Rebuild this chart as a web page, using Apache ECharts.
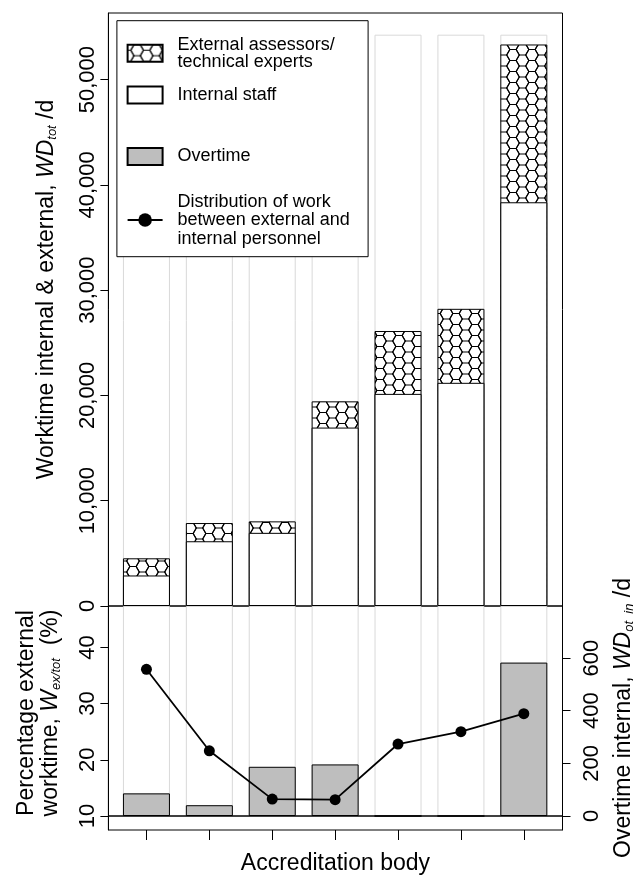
<!DOCTYPE html>
<html><head><meta charset="utf-8">
<script src="https://cdn.jsdelivr.net/npm/echarts@6/dist/echarts.min.js"></script>
<style>html,body{margin:0;padding:0;background:#fff}#c{width:633px;height:881px}</style>
</head><body><div id="c"></div>
<script>
// ---------------- data ----------------
const categories = ['Body 1','Body 2','Body 3','Body 4','Body 5','Body 6','Body 7'];
const internalStaff = [2900, 6150, 6950, 16950, 20150, 21200, 38350];   // WD internal
const totalWorktime = [4530, 7880, 8040, 19440, 26120, 28230, 53340];   // internal + external
const overtime = [86, 41, 187, 196, 0, 0, 583];                          // WD_ot_in
const percentExternal = [36.1, 21.6, 13.0, 12.9, 22.8, 25.0, 28.2];      // W_ex/tot (%)
const ghostTop = 54270;
const topTicks = [0, 10000, 20000, 30000, 40000, 50000];
const pctTicks = [10, 20, 30, 40];
const otTicks = [0, 200, 400, 600];
const xTicks = categories.map((c, i) => i);

// ---------------- styling ----------------
const FONT = 'Liberation Sans, Arial, Helvetica, sans-serif';
const topMax = 56330, pctMin = 7.5, pctMax = 47.37, otMin = -53.2, otMax = 798;
const xMin = -0.605, xMax = 6.615;

function hexPattern() {
  const W = 19, H = 11, s = W / 3;
  const c = document.createElement('canvas');
  c.width = W; c.height = H;
  const g = c.getContext('2d');
  g.fillStyle = '#fff'; g.fillRect(0, 0, W, H);
  g.strokeStyle = '#000'; g.lineWidth = 1.1;
  const centers = [[0, 0], [W, 0], [0, H], [W, H], [1.5 * s, H / 2]];
  centers.forEach(([cx, cy]) => {
    g.beginPath();
    g.moveTo(cx + s, cy);
    g.lineTo(cx + s / 2, cy + H / 2);
    g.lineTo(cx - s / 2, cy + H / 2);
    g.lineTo(cx - s, cy);
    g.lineTo(cx - s / 2, cy - H / 2);
    g.lineTo(cx + s / 2, cy - H / 2);
    g.closePath();
    g.stroke();
  });
  return c;
}
const hex = { image: hexPattern(), repeat: 'repeat' };

const pairs = arr => arr.map((v, i) => [i, v]);
const BW = 47;

const rich = {
  t: { fontSize: 23, fontFamily: FONT, color: '#000', lineHeight: 24 },
  i: { fontSize: 23, fontFamily: FONT, fontStyle: 'italic', color: '#000', lineHeight: 24 },
  s: { fontSize: 13, fontFamily: FONT, fontStyle: 'italic', color: '#000', lineHeight: 17, verticalAlign: 'bottom' }
};

const legendNames = {
  'External': 'External assessors/\ntechnical experts',
  'Internal staff': 'Internal staff',
  'Overtime': 'Overtime',
  'Distribution': 'Distribution of work\nbetween external and\ninternal personnel'
};
function mkLegend(name, top, lh, icon) {
  const l = {
    data: [name], orient: 'vertical', left: 126.6, top: top, padding: 0,
    itemWidth: 35, itemHeight: 17, z: 10, selectedMode: false,
    formatter: n => legendNames[n],
    textStyle: { fontSize: 18, fontFamily: FONT, color: '#000', lineHeight: lh, padding: [0, 0, 0, 10] }
  };
  if (icon) l.icon = icon;
  return l;
}

const tickStyle = { show: true, length: 8, lineStyle: { color: '#000', width: 1 } };
const labelBase = { fontSize: 22, fontFamily: FONT, color: '#000', rotate: 90 };
const yLine = { show: true, onZero: false, lineStyle: { color: '#000', width: 1 } };

const option = {
  animation: false,
  backgroundColor: '#fff',
  textStyle: { fontFamily: FONT },
  grid: [
    { left: 108.4, top: 13, width: 454.1, height: 593, show: true, borderColor: '#000', borderWidth: 1,
      backgroundColor: 'transparent', containLabel: false, outerBoundsMode: 'none' },
    { left: 108.4, top: 606, width: 454.1, height: 224, show: true, borderColor: '#000', borderWidth: 1,
      backgroundColor: 'transparent', containLabel: false, outerBoundsMode: 'none' }
  ],
  xAxis: [
    { type: 'value', gridIndex: 0, min: xMin, max: xMax, show: false },
    { type: 'value', gridIndex: 1, min: xMin, max: xMax,
      axisLine: { show: false, onZero: false }, splitLine: { show: false },
      axisTick: { show: true, length: 10, customValues: xTicks, lineStyle: { color: '#000', width: 1 } },
      axisLabel: { show: false, customValues: xTicks },
      name: 'Accreditation body', nameLocation: 'middle', nameGap: 22,
      nameTextStyle: { fontSize: 23, fontFamily: FONT, color: '#000' } }
  ],
  yAxis: [
    { type: 'value', gridIndex: 0, min: 0, max: topMax, position: 'left',
      axisLine: yLine, splitLine: { show: false },
      axisTick: Object.assign({ customValues: topTicks }, tickStyle),
      axisLabel: Object.assign({ customValues: topTicks, margin: 9,
        formatter: v => v.toLocaleString('en-US') }, labelBase),
      name: '{t|Worktime internal & external, }{i|WD}{s|tot}{t| /d}',
      nameLocation: 'middle', nameRotate: 90, nameGap: 50,
      nameTextStyle: { rich: rich, padding: [0, 0, 0, 40] } },
    { type: 'value', gridIndex: 1, min: pctMin, max: pctMax, position: 'left',
      axisLine: yLine, splitLine: { show: false },
      axisTick: Object.assign({ customValues: pctTicks }, tickStyle),
      axisLabel: Object.assign({ customValues: pctTicks, margin: 9 }, labelBase),
      name: '{t|Percentage external}\n{t|worktime, }{i|W}{s|ex/tot}{t|  (%)}',
      nameLocation: 'middle', nameRotate: 90, nameGap: 46,
      nameTextStyle: { rich: rich, padding: [0, 0, 0, 10] } },
    { type: 'value', gridIndex: 1, min: otMin, max: otMax, position: 'right',
      axisLine: yLine, splitLine: { show: false },
      axisTick: Object.assign({ customValues: otTicks }, tickStyle),
      axisLabel: Object.assign({ customValues: otTicks, margin: 18 }, labelBase),
      name: '{t|Overtime internal, }{i|WD}{s|ot_in}{t| /d}',
      nameLocation: 'middle', nameRotate: 90, nameGap: 49,
      nameTextStyle: { rich: rich } }
  ],
  legend: [
    mkLegend('External', 35.7, 17, 'rect'),
    mkLegend('Internal staff', 85.5, 17, 'rect'),
    mkLegend('Overtime', 147, 17, 'rect'),
    mkLegend('Distribution', 192.3, 18.5)
  ],
  graphic: [
    { type: 'rect', z: 3, shape: { x: 116.9, y: 20.7, width: 251.2, height: 236 },
      style: { fill: '#fff', stroke: '#000', lineWidth: 1 } }
  ],
  series: [
    { type: 'bar', name: 'ghostTop', xAxisIndex: 0, yAxisIndex: 0, barWidth: BW, barGap: '-100%', z: 1, silent: true,
      data: categories.map((c, i) => [i, ghostTop]),
      itemStyle: { color: 'rgba(0,0,0,0)', borderColor: '#d9d9d9', borderWidth: 1 } },
    { type: 'bar', name: 'External', xAxisIndex: 0, yAxisIndex: 0, barWidth: BW, barGap: '-100%', z: 2,
      data: pairs(totalWorktime),
      itemStyle: { color: hex, borderColor: '#000', borderWidth: 1 } },
    { type: 'bar', name: 'Internal staff', xAxisIndex: 0, yAxisIndex: 0, barWidth: BW, barGap: '-100%', z: 2,
      data: pairs(internalStaff),
      itemStyle: { color: '#fff', borderColor: '#000', borderWidth: 1 } },
    { type: 'bar', name: 'ghostBottom', xAxisIndex: 1, yAxisIndex: 2, barWidth: BW, barGap: '-100%', z: 1, silent: true,
      data: categories.map((c, i) => [i, otMax]),
      itemStyle: { color: 'rgba(0,0,0,0)', borderColor: '#d9d9d9', borderWidth: 1 } },
    { type: 'bar', name: 'Overtime', xAxisIndex: 1, yAxisIndex: 2, barWidth: BW, barGap: '-100%', z: 2,
      data: pairs(overtime),
      itemStyle: { color: '#bebebe', borderColor: '#000', borderWidth: 1 } },
    { type: 'line', name: 'Distribution', xAxisIndex: 1, yAxisIndex: 1, z: 4,
      data: pairs(percentExternal),
      symbol: 'circle', symbolSize: 11,
      lineStyle: { color: '#000', width: 1.8 },
      itemStyle: { color: '#000' },
      markLine: { silent: true, symbol: 'none', label: { show: false },
        lineStyle: { color: '#000', width: 1.5, type: 'solid' }, data: [{ yAxis: 10 }] } }
  ]
};
const chart = echarts.init(document.getElementById('c'));
chart.setOption(option);
</script></body></html>
